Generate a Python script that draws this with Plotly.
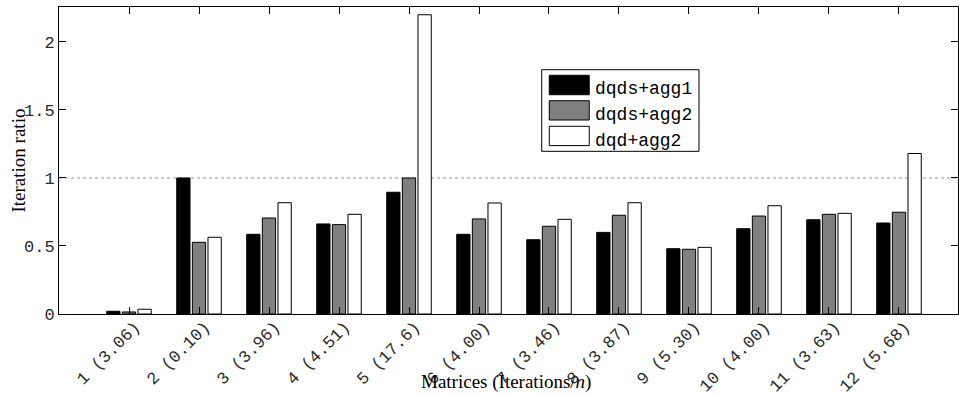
import plotly.graph_objects as go

matrices = ["1 (3.06)", "2 (0.10)", "3 (3.96)", "4 (4.51)", "5 (17.6)", "6 (4.00)",
            "7 (3.46)", "8 (3.87)", "9 (5.30)", "10 (4.00)", "11 (3.63)", "12 (5.68)"]
series_names = ["dqds+agg1", "dqds+agg2", "dqd+agg2"]
dqds_agg1 = [0.02, 1.00, 0.586, 0.662, 0.895, 0.586, 0.546, 0.600, 0.480, 0.627, 0.693, 0.669]
dqds_agg2 = [0.015, 0.527, 0.706, 0.657, 1.000, 0.699, 0.645, 0.726, 0.476, 0.720, 0.733, 0.748]
dqd_agg2 = [0.035, 0.564, 0.818, 0.733, 2.200, 0.816, 0.696, 0.818, 0.490, 0.796, 0.740, 1.180]
ytick_vals = [0, 0.5, 1, 1.5, 2]
ytick_text = ["0", "0.5", "1", "1.5", "2"]

colors = ["#000000", "#808080", "#ffffff"]
values = [dqds_agg1, dqds_agg2, dqd_agg2]

fig = go.Figure()
for name, vals, col in zip(series_names, values, colors):
    fig.add_trace(go.Bar(x=matrices, y=vals, name=name,
                         marker=dict(color=col, line=dict(color="#000000", width=1)),
                         showlegend=False))

mono = "Liberation Mono, Courier New, monospace"
serif = "Liberation Serif, Times New Roman, serif"

fig.update_layout(
    width=959, height=396, autosize=False,
    margin=dict(l=59, r=1, t=7, b=82),
    paper_bgcolor="white", plot_bgcolor="white",
    barmode="group", bargap=0.33, bargroupgap=0.15,
    font=dict(family=mono, size=18, color="#000000"),
)
fig.update_xaxes(
    range=[-1, 11.843], showgrid=False, zeroline=False, automargin=False,
    showline=True, linecolor="#000000", linewidth=1, mirror="ticks",
    ticks="inside", ticklen=7, tickcolor="#000000", tickangle=-45,
    ticklabelshift=6, ticklabelstandoff=-5,
    tickfont=dict(family=mono, size=17, color="#2a2a2a"),
)
fig.update_yaxes(
    range=[0, 2.257], showgrid=False, zeroline=False, automargin=False,
    showline=True, linecolor="#000000", linewidth=1, mirror="ticks",
    ticks="inside", ticklen=7, tickcolor="#000000",
    tickvals=ytick_vals, ticktext=ytick_text,
    tickfont=dict(family=mono, size=17, color="#2a2a2a"),
)

# dotted reference line at ratio 1
fig.add_shape(type="line", xref="paper", yref="y", x0=0, x1=1, y0=1, y1=1,
              layer="below", line=dict(color="#999999", width=1, dash="dot"))

# axis titles
fig.add_annotation(text="Iteration ratio", xref="paper", yref="paper",
                   x=-0.0456, y=0.5, textangle=-90, showarrow=False,
                   xanchor="center", yanchor="middle",
                   font=dict(family=serif, size=19, color="#000000"))
fig.add_annotation(text="Matrices (Iterations/<i>n</i>)", xref="paper", yref="paper",
                   x=0.4967, y=-0.2215, showarrow=False,
                   xanchor="center", yanchor="middle",
                   font=dict(family=serif, size=19, color="#000000"))

# legend drawn with shapes (large swatches as in the reference)
fig.add_shape(type="rect", xref="x", yref="y", x0=6.896 - 1, x1=9.143 - 1, y0=1.196, y1=1.796,
              line=dict(color="#000000", width=1), fillcolor="white", layer="above")
sw_y = [(1.612, 1.755), (1.426, 1.568), (1.238, 1.380)]
txt_y = [1.654, 1.463, 1.272]
for name, col, (y0, y1), ty in zip(series_names, colors, sw_y, txt_y):
    fig.add_shape(type="rect", xref="x", yref="y", x0=7.004 - 1, x1=7.575 - 1, y0=y0, y1=y1,
                  line=dict(color="#000000", width=1), fillcolor=col, layer="above")
    fig.add_annotation(text=name, xref="x", yref="y", x=7.63 - 1, y=ty, showarrow=False,
                       xanchor="left", yanchor="middle",
                       font=dict(family=mono, size=18, color="#000000"))

fig.write_html("out.html", config={"displayModeBar": False, "responsive": False},
               post_script="document.body.style.margin='0';document.body.style.overflow='hidden';")
